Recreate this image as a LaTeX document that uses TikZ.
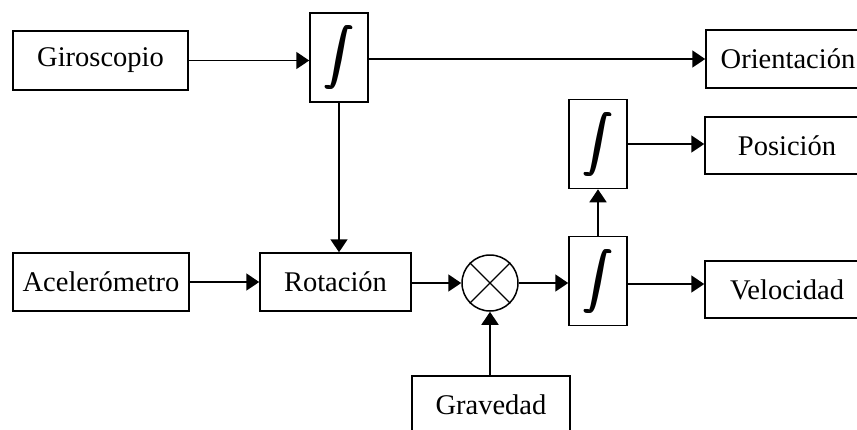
\documentclass[tikz,border=0pt]{standalone}
\usepackage{fontspec}
\setmainfont{Liberation Serif}
\usetikzlibrary{arrows.meta,calc}
\begin{document}
\begin{tikzpicture}[x=1pt,y=1pt,
  every node/.style={font=\fontsize{28.5}{32}\selectfont},
  blk/.style={draw,line width=1.5pt,rectangle,inner sep=0pt},
  intblk/.style={blk,minimum width=58pt,minimum height=89pt},
  conn/.style={line width=1.5pt,-{Triangle[length=13pt,width=17pt]}},
  sumnode/.style={draw,line width=1.5pt,circle,minimum size=56pt,inner sep=0pt}]
\useasboundingbox (0,0) rectangle (857,-429);
\newcommand{\intglyph}{\resizebox*{28pt}{64pt}{$\displaystyle\int$}}
\newcommand{\integ}{\rlap{\intglyph}\kern1.3pt\rlap{\intglyph}\kern1.3pt\rlap{\intglyph}\kern1.3pt\intglyph}
\node[blk,minimum width=175pt,minimum height=59pt] (giro) at (100.5,-60.5) {Giroscopio};
\node[intblk] (int1) at (339,-57.5) {\integ};
\node[blk,minimum width=164pt,minimum height=58pt] (orient) at (788,-59) {Orientación};
\node[intblk] (int2) at (598,-144) {\integ};
\node[blk,minimum width=164pt,minimum height=57pt] (pos) at (787,-145.5) {Posición};
\node[blk,minimum width=176pt,minimum height=58pt] (acel) at (101,-282) {Acelerómetro};
\node[blk,minimum width=151pt,minimum height=58pt] (rot) at (335.5,-282) {Rotación};
\node[sumnode] (sum) at (490,-283) {};
\draw[line width=1.2pt] (sum.north east) -- (sum.south west) (sum.north west) -- (sum.south east);
\node[intblk] (int3) at (598,-281) {\integ};
\node[blk,minimum width=164pt,minimum height=57pt] (velo) at (787,-289.5) {Velocidad};
\node[blk,minimum width=158pt,minimum height=58pt] (grav) at (491,-405) {Gravedad};
\draw[conn] (giro.east) -- (giro.east -| int1.west);
\draw[conn] (int1.east |- orient.west) -- (orient.west);
\draw[conn] (int1.south) -- (int1.south |- rot.north);
\draw[conn] (acel.east) -- (rot.west);
\draw[conn] (rot.east |- sum.west) -- (sum.west);
\draw[conn] (sum.east) -- (sum.east -| int3.west);
\draw[conn] ([yshift=-3pt]int3.east) -- ([yshift=-3pt]int3.east -| velo.west);
\draw[conn] (int3.north) -- (int2.south);
\draw[conn] (int2.east) -- (int2.east -| pos.west);
\draw[conn] (grav.north -| sum.south) -- (sum.south);
\end{tikzpicture}
\end{document}
